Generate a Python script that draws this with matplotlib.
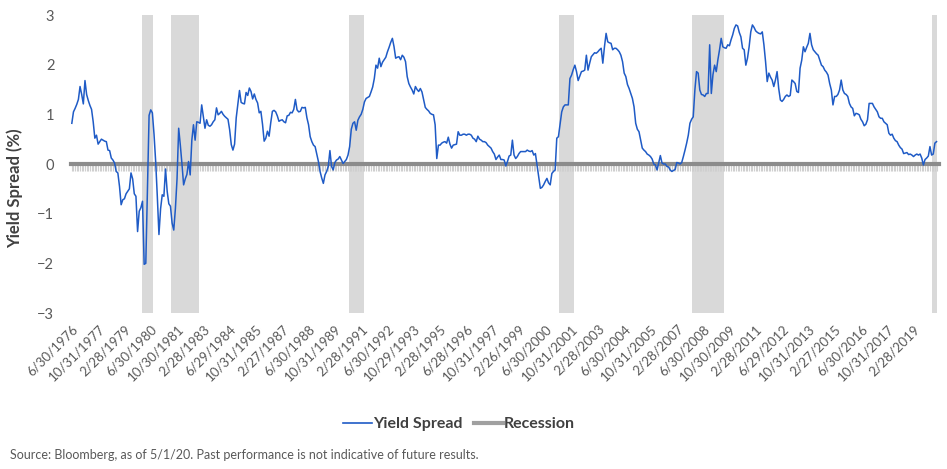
import numpy as np
import pandas as pd
import matplotlib
matplotlib.use('Agg')
import matplotlib.pyplot as plt
from matplotlib.lines import Line2D

plt.rcParams['font.family'] = ['Lato', 'DejaVu Sans']

# Monthly yield spread (%), month-end, Jun 1976 .. Apr 2020 (one row per calendar year)
spread_1970s = [
    0.82, 1.05, 1.12, 1.20, 1.30, 1.56, 1.40,
    1.21, 1.68, 1.40, 1.28, 1.18, 1.10, 0.85, 0.52, 0.58, 0.40, 0.45, 0.50,
    0.48, 0.46, 0.45, 0.28, 0.27, 0.12, 0.08, 0.02, -0.15, -0.18, -0.45, -0.82,
    -0.72, -0.70, -0.60, -0.55, -0.50, -0.18, -0.30, -0.60, -0.65, -1.36, -0.95, -0.88,
]
spread_1980s = [
    -0.75, -2.02, -2.00, -0.50, 0.98, 1.09, 1.03, 0.60, 0.05, -0.65, -1.42, -0.90,
    -0.62, -0.65, -0.10, -0.55, -0.80, -0.85, -1.19, -1.33, -0.90, -0.30, 0.72, 0.38,
    0.00, -0.42, -0.30, -0.21, 0.05, -0.22, 0.48, 0.79, 0.48, 0.85, 0.84, 0.82,
    1.19, 0.95, 0.72, 0.89, 0.78, 0.76, 0.79, 0.85, 0.89, 1.13, 0.99, 1.02,
    1.06, 1.00, 0.96, 0.93, 0.90, 0.69, 0.39, 0.28, 0.40, 0.93, 1.20, 1.48,
    1.24, 1.22, 1.21, 1.44, 1.38, 1.53, 1.46, 1.31, 1.41, 1.30, 1.23, 1.03,
    1.06, 0.80, 0.46, 0.52, 0.66, 0.56, 0.83, 1.06, 1.08, 1.05, 0.97, 0.86,
    0.88, 0.89, 0.85, 0.83, 0.97, 0.98, 1.04, 1.03, 1.10, 1.30, 1.09, 1.05,
    1.06, 1.14, 1.13, 1.14, 0.93, 0.79, 0.55, 0.45, 0.38, 0.35, 0.20, 0.05,
    -0.15, -0.28, -0.39, -0.22, -0.15, -0.05, 0.27, -0.05, -0.12, 0.03, 0.08, 0.10,
]
spread_1990s = [
    0.15, 0.08, 0.01, 0.05, 0.09, 0.18, 0.35, 0.70, 0.82, 0.85, 0.68, 0.88,
    0.95, 1.00, 1.10, 1.25, 1.32, 1.34, 1.36, 1.45, 1.55, 1.72, 1.99, 1.93,
    2.13, 1.96, 2.05, 2.10, 2.15, 2.26, 2.35, 2.45, 2.53, 2.36, 2.13, 2.15,
    2.16, 2.10, 2.19, 2.15, 2.06, 1.76, 1.62, 1.55, 1.49, 1.41, 1.56, 1.50,
    1.46, 1.52, 1.45, 1.29, 1.14, 1.10, 1.07, 1.02, 1.00, 0.99, 0.79, 0.11,
    0.38, 0.38, 0.42, 0.44, 0.45, 0.42, 0.54, 0.40, 0.32, 0.38, 0.39, 0.40,
    0.65, 0.58, 0.58, 0.60, 0.60, 0.58, 0.60, 0.60, 0.58, 0.52, 0.50, 0.45,
    0.56, 0.50, 0.48, 0.45, 0.45, 0.43, 0.38, 0.35, 0.32, 0.25, 0.20, 0.09,
    0.14, 0.18, 0.09, 0.09, 0.08, -0.04, 0.05, 0.16, 0.18, 0.48, 0.18, 0.11,
    0.15, 0.21, 0.25, 0.25, 0.25, 0.25, 0.28, 0.26, 0.25, 0.27, 0.18, 0.21,
]
spread_2000s = [
    -0.02, -0.26, -0.49, -0.47, -0.42, -0.35, -0.29, -0.38, -0.42, -0.19, -0.15, -0.12,
    0.52, 0.55, 0.80, 1.05, 1.15, 1.19, 1.19, 1.19, 1.72, 1.79, 1.90, 1.99,
    1.86, 1.68, 1.77, 1.86, 1.87, 1.89, 2.19, 1.89, 2.03, 2.16, 2.20, 2.24,
    2.23, 2.26, 2.30, 2.33, 2.03, 2.36, 2.63, 2.46, 2.44, 2.43, 2.30, 2.33,
    2.33, 2.30, 2.26, 2.19, 2.06, 1.83, 1.76, 1.60, 1.52, 1.42, 1.32, 1.15,
    0.82, 0.70, 0.65, 0.48, 0.32, 0.28, 0.25, 0.20, 0.18, 0.15, 0.10, 0.00,
    -0.02, -0.12, 0.03, 0.17, 0.02, 0.00, 0.00, -0.05, -0.06, -0.12, -0.15, -0.13,
    -0.11, 0.03, 0.02, 0.00, 0.03, 0.15, 0.28, 0.42, 0.58, 0.82, 0.90, 0.95,
    1.49, 1.86, 1.83, 1.49, 1.40, 1.39, 1.36, 1.42, 1.42, 2.40, 1.42, 1.80,
    1.99, 1.86, 2.10, 2.30, 2.53, 2.36, 2.34, 2.33, 2.40, 2.38, 2.50, 2.60,
]
spread_2010s = [
    2.73, 2.80, 2.78, 2.65, 2.56, 2.33, 2.30, 1.99, 2.13, 2.36, 2.66, 2.80,
    2.75, 2.68, 2.65, 2.63, 2.62, 2.66, 2.40, 2.06, 1.66, 1.83, 1.75, 1.69,
    1.56, 1.69, 1.86, 1.52, 1.29, 1.26, 1.30, 1.36, 1.39, 1.36, 1.38, 1.69,
    1.66, 1.62, 1.46, 1.44, 1.93, 2.09, 2.36, 2.26, 2.35, 2.43, 2.63, 2.40,
    2.30, 2.26, 2.22, 2.19, 2.09, 1.99, 1.96, 1.89, 1.85, 1.79, 1.62, 1.49,
    1.19, 1.36, 1.36, 1.40, 1.49, 1.69, 1.49, 1.42, 1.40, 1.36, 1.22, 1.15,
    1.12, 0.97, 1.02, 1.01, 0.99, 0.90, 0.85, 0.77, 0.80, 0.89, 1.22, 1.22,
    1.22, 1.15, 1.10, 1.05, 0.95, 0.92, 0.92, 0.85, 0.82, 0.79, 0.62, 0.58,
    0.60, 0.52, 0.47, 0.45, 0.38, 0.33, 0.30, 0.21, 0.22, 0.23, 0.19, 0.20,
    0.18, 0.15, 0.18, 0.20, 0.18, 0.20, 0.12, -0.02, 0.09, 0.12, 0.16, 0.35,
]
spread_2020s = [0.18, 0.20, 0.42, 0.45]

# NBER recessions (first and last month)
rec_start = ['1980-01', '1981-07', '1990-07', '2001-03', '2007-12', '2020-02']
rec_end = ['1980-07', '1982-11', '1991-03', '2001-11', '2009-06', '2020-04']

tick_labels = ['6/30/1976', '10/31/1977', '2/28/1979', '6/30/1980', '10/30/1981',
               '2/28/1983', '6/29/1984', '10/31/1985', '2/27/1987', '6/30/1988',
               '10/31/1989', '2/28/1991', '6/30/1992', '10/29/1993', '2/28/1995',
               '6/28/1996', '10/31/1997', '2/26/1999', '6/30/2000', '10/31/2001',
               '2/28/2003', '6/30/2004', '10/31/2005', '2/28/2007', '6/30/2008',
               '10/30/2009', '2/28/2011', '6/29/2012', '10/31/2013', '2/27/2015',
               '6/30/2016', '10/31/2017', '2/28/2019']

spread = np.array(spread_1970s + spread_1980s + spread_1990s + spread_2000s
                  + spread_2010s + spread_2020s)
dates = pd.period_range('1976-06', periods=len(spread), freq='M')
x = np.arange(len(spread))

fig = plt.figure(figsize=(9.47, 4.69), dpi=100)
ax = fig.add_axes([71 / 947, 1 - 313 / 469, 868 / 947, 298 / 469])

# Recession shading
for s, e in zip(rec_start, rec_end):
    i0 = dates.get_loc(pd.Period(s, 'M'))
    i1 = dates.get_loc(pd.Period(e, 'M'))
    ax.axvspan(i0 - 0.5, i1 + 0.5, color='#d9d9d9', lw=0, zorder=1)

ax.plot(x, spread, color='#1f5bc6', lw=1.1, zorder=3)

ax.set_xlim(-0.5, len(spread) + 0.5)
ax.set_ylim(-3, 3)

for side in ['top', 'right', 'left']:
    ax.spines[side].set_visible(False)
ax.spines['bottom'].set_position(('data', 0))
ax.spines['bottom'].set_color('#8c8c8c')
ax.spines['bottom'].set_linewidth(3)
ax.spines['bottom'].set_zorder(2)

# Monthly tick marks on the zero line
ax.set_xticks(x, minor=True)
ax.set_xticks([])
ax.tick_params(axis='x', which='both', direction='out', length=5, width=0.8,
               color='#cfcfcf', labelbottom=False)

ax.set_yticks(range(-3, 4))
ax.tick_params(axis='y', length=0, pad=12, labelsize=10.5, labelcolor='#595959')
ax.set_ylabel('Yield Spread (%)', fontsize=12, fontweight='bold', color='#404040')
ax.yaxis.set_label_coords(-0.055, 0.42)

# Date labels along the bottom of the plot area
sec = ax.secondary_xaxis('bottom')
tick_pos = x[::16][:len(tick_labels)]
sec.set_xticks(tick_pos, tick_labels, rotation=45, ha='right', va='top',
               rotation_mode='anchor')
sec.tick_params(length=0, pad=7, labelsize=9.5, labelcolor='#595959')
sec.spines['bottom'].set_visible(False)

handles = [Line2D([], [], color='#1f5bc6', lw=1.2),
           Line2D([], [], color='#a0a0a0', lw=3)]
leg = fig.legend(handles, ['Yield Spread', 'Recession'], loc='center',
                 bbox_to_anchor=(459 / 947, 1 - 424 / 469), ncol=2, frameon=False,
                 handlelength=1.8, handletextpad=0.1, columnspacing=0.7,
                 prop={'weight': 'bold', 'size': 11.5})
for t in leg.get_texts():
    t.set_color('#404040')

fig.text(10 / 947, 1 - 455 / 469,
         'Source: Bloomberg, as of 5/1/20. Past performance is not indicative of future results.',
         fontsize=9, color='#595959', va='center')

fig.savefig('out.png', dpi=100)
